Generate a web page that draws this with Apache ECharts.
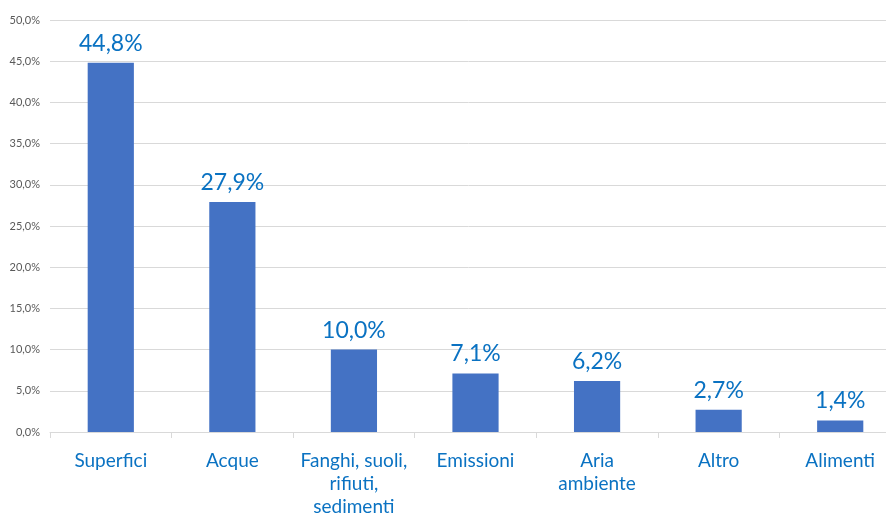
<!DOCTYPE html>
<html><head><meta charset="utf-8">
<script src="https://cdn.jsdelivr.net/npm/echarts@6/dist/echarts.min.js"></script>
<style>html,body{margin:0;padding:0;background:#fff}#c{width:886px;height:522px}</style>
</head><body><div id="c"></div>
<script>
const categories = ['Superfici', 'Acque', 'Fanghi, suoli,\nrifiuti,\nsedimenti', 'Emissioni', 'Aria\nambiente', 'Altro', 'Alimenti'];
const values = [44.8, 27.9, 10.0, 7.1, 6.2, 2.7, 1.4];
const yTicks = { min: 0, max: 50, interval: 5 };

const fmt = v => v.toFixed(1).replace('.', ',') + '%';
const chart = echarts.init(document.getElementById('c'), null, { renderer: 'canvas' });
chart.setOption({
  animation: false,
  grid: { left: 50, width: 851, top: 20, height: 412, containLabel: false, outerBoundsMode: 'none' },
  xAxis: {
    type: 'category', data: categories,
    axisLine: { lineStyle: { color: '#d9d9d9', width: 1 } },
    axisTick: { show: true, length: 6, lineStyle: { color: '#d9d9d9' } },
    axisLabel: { color: '#0a72c2', fontFamily: 'Lato', fontSize: 19, lineHeight: 23, margin: 17, interval: 0 }
  },
  yAxis: {
    type: 'value', min: yTicks.min, max: yTicks.max, interval: yTicks.interval,
    axisLine: { show: false }, axisTick: { show: false },
    splitLine: { lineStyle: { color: '#d9d9d9', width: 1 } },
    axisLabel: { color: '#595959', fontFamily: 'Lato', fontSize: 11, margin: 10, formatter: fmt }
  },
  series: [{
    type: 'bar', data: values, barWidth: '38%',
    itemStyle: { color: '#4472c4' },
    label: { show: true, position: 'top', distance: 8, color: '#0a72c2', fontFamily: 'Lato', fontSize: 23, formatter: p => fmt(p.value) }
  }]
});
</script></body></html>
